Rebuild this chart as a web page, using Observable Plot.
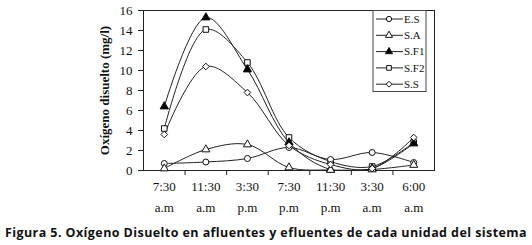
<!DOCTYPE html>
<html><head><meta charset="utf-8">
<script src="https://cdn.jsdelivr.net/npm/d3@7"></script>
<script src="https://cdn.jsdelivr.net/npm/@observablehq/plot@0.6"></script>
<style>
body{margin:0;background:#fff;width:532px;overflow:hidden;}
#chart{position:relative;width:532px;height:220px;}
#cap{height:25px;text-align:center;white-space:nowrap;}
#cap span{font-family:"Open Sans",Lato,sans-serif;font-weight:bold;font-size:12.5px;line-height:26px;color:#111;display:inline-block;}
</style>
</head><body>
<div id="chart"></div>
<div id="cap"><span id="capt">Figura 5. Oxígeno Disuelto en afluentes y efluentes de cada unidad del sistema</span></div>
<script>
const times = ["7:30","11:30","3:30","7:30","11:30","3:30","6:00"];
const periods = ["a.m","a.m","p.m","p.m","p.m","a.m","a.m"];
const seriesNames = ["E.S","S.A","S.F1","S.F2","S.S"];
const ES  = [0.7, 0.85, 1.2, 2.3, 1.1, 1.8, 0.8];
const SA  = [0.2, 2.1, 2.6, 0.3, 0.05, 0.1, 0.55];
const SF1 = [6.4, 15.3, 10.1, 2.8, 0.1, 0.2, 2.7];
const SF2 = [4.2, 14.1, 10.8, 3.3, 0.9, 0.4, 2.8];
const SS  = [3.6, 10.4, 7.8, 2.5, 0.6, 0.2, 3.3];
const yTicks = [0,2,4,6,8,10,12,14,16];

const valuesBySeries = [ES, SA, SF1, SF2, SS];
const symbols = {"E.S":"circle","S.A":"triangle","S.F1":"triangle","S.F2":"square","S.S":"diamond2"};
const fills = {"E.S":"white","S.A":"white","S.F1":"black","S.F2":"white","S.S":"white"};
const radii = {"E.S":3.8,"S.A":3.8,"S.F1":4,"S.F2":4.2,"S.S":3.8};

const data = [];
seriesNames.forEach((s, k) => valuesBySeries[k].forEach((v, i) => data.push({series: s, i, v})));
const idx = times.map((_, i) => i);
const bounds = idx.slice(0, -1).map(i => i + 0.5);

const serif = "Liberation Serif, Times New Roman, serif";
const plot = Plot.plot({
  width: 532, height: 220,
  marginLeft: 143, marginRight: 98, marginTop: 10, marginBottom: 50,
  style: {fontFamily: serif, fontSize: "13px", color: "#111", background: "white"},
  x: {type: "linear", domain: [-0.5, 6.5]},
  y: {domain: [0, 16]},
  marks: [
    Plot.frame({stroke: "#222"}),
    Plot.axisY({ticks: yTicks, tickSize: 5, tickPadding: 6, label: null, stroke: "#222"}),
    Plot.axisX({ticks: bounds, tickSize: 5, tickFormat: () => "", label: null, stroke: "#222", tickPadding: 0}),
    Plot.axisX({ticks: idx, tickSize: 0, tickPadding: 11, tickFormat: i => times[i], label: null}),
    Plot.axisX({ticks: idx, tickSize: 0, tickPadding: 32, tickFormat: i => periods[i], label: null}),
    Plot.text(["Oxígeno disuelto (mg/l)"], {frameAnchor: "left", dx: -39, rotate: -90, fontWeight: "bold", fontSize: 13, textAnchor: "middle"}),
    Plot.line(data, {x: "i", y: "v", z: "series", curve: "catmull-rom", stroke: "#222", strokeWidth: 1, clip: true}),
    Plot.dot(data, {x: "i", y: "v", symbol: d => symbols[d.series], fill: d => fills[d.series], r: d => radii[d.series], stroke: "#111", strokeWidth: 1})
  ]
});
document.getElementById("chart").appendChild(plot);

// Legend box (decoration) drawn with d3 inside the svg
const svg = d3.select(plot);
const lg = svg.append("g").attr("transform", "translate(373,10.5)").attr("text-anchor", "start");
lg.append("rect").attr("width", 53).attr("height", 81).attr("fill", "white").attr("stroke", "#444").attr("stroke-width", 1);
seriesNames.forEach((s, k) => {
  const y = 8.5 + k * 16.3;
  lg.append("line").attr("x1", 3).attr("x2", 30).attr("y1", y).attr("y2", y).attr("stroke", "#222");
  const sym = {circle: d3.symbolCircle, triangle: d3.symbolTriangle, square: d3.symbolSquare, diamond2: d3.symbolDiamond2}[symbols[s]];
  lg.append("path").attr("d", d3.symbol(sym, 22)()).attr("transform", `translate(16,${y})`)
    .attr("fill", fills[s]).attr("stroke", "#111");
  lg.append("text").attr("x", 31).attr("y", y).attr("dy", "0.35em").attr("font-family", serif).attr("font-size", 11).attr("fill", "#111").text(s);
});

// fit caption width to the reference span
const cap = document.getElementById("capt");
const w = cap.getBoundingClientRect().width;
const n = cap.textContent.length;
cap.style.letterSpacing = ((522 - w) / n) + "px";
</script>
</body></html>
